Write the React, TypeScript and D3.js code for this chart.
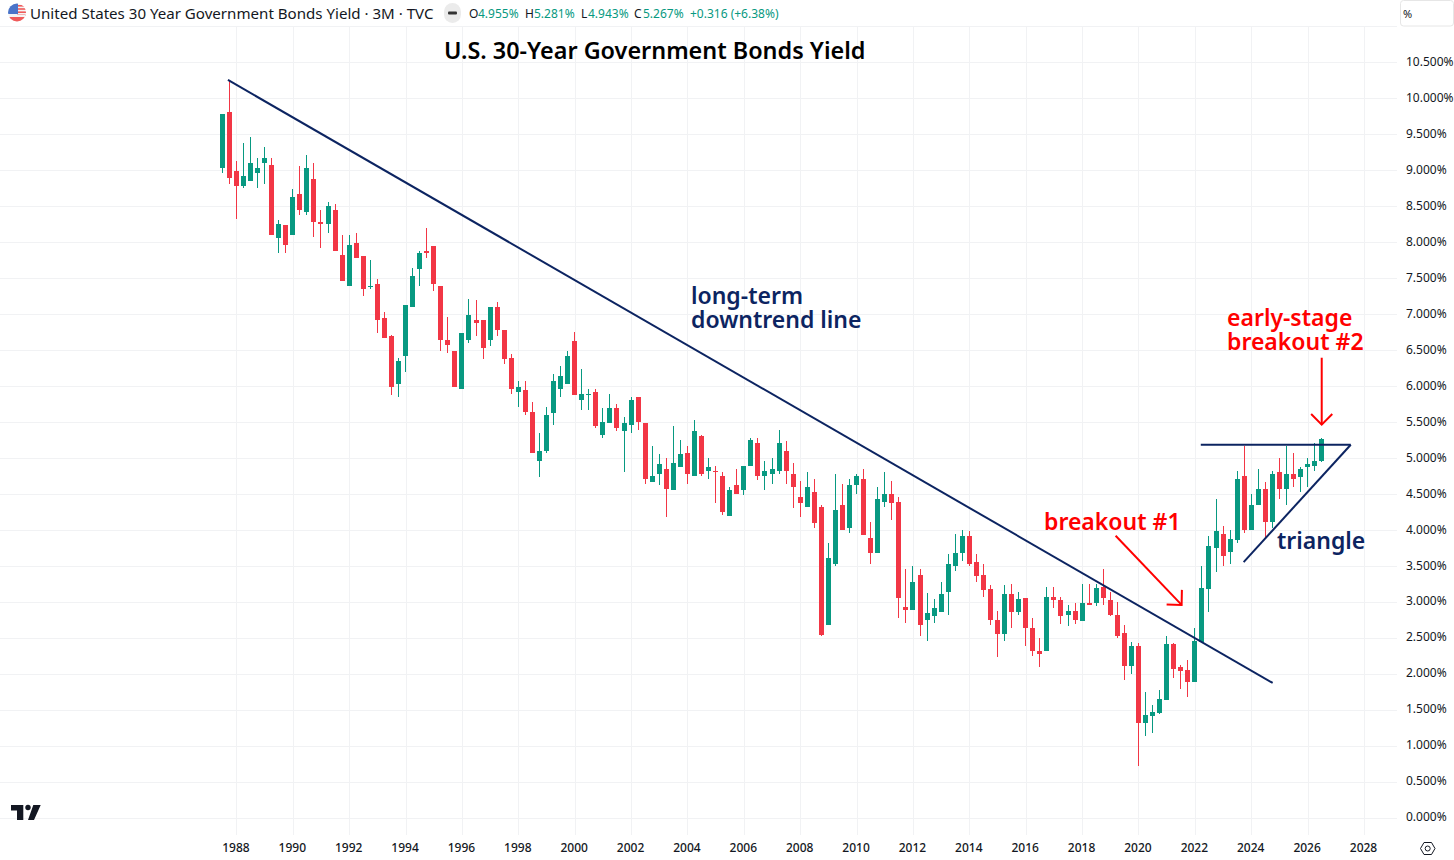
import { useEffect, useRef } from 'react'
import * as d3 from 'd3'

// quarterly candles, first one is 1987 Q3
const startYear = 1987.5
const opens = [
  9.02, 9.81, 8.98, 8.78, 8.85, 8.96, 9.09, 9.07, 8.06, 8.24, 8.09, 8.66, 8.41, 8.87, 8.27, 8.25, 8.45, 7.82, 7.39, 7.98,
  7.8, 7.38, 7.41, 6.94, 6.69, 6.02, 6.41, 7.09, 7.62, 7.87, 7.94, 7.38, 6.63, 6.48, 5.95, 6.63, 6.91, 6.92, 6.63, 7.1,
  6.78, 6.39, 5.91, 5.94, 5.63, 4.96, 5.09, 5.62, 5.95, 6.03, 6.62, 5.8, 5.87, 5.92, 5.32, 5.48, 5.69, 5.37, 5.45, 5.84,
  5.48, 4.66, 4.77, 4.84, 4.55, 4.87, 5.07, 4.75, 5.3, 4.82, 4.81, 4.75, 4.19, 4.62, 4.55, 4.88, 5.2, 4.74, 4.77, 4.82,
  5.09, 4.78, 4.46, 4.31, 4.52, 4.31, 2.67, 3.52, 4.34, 4.03, 4.62, 4.71, 3.89, 3.67, 4.39, 4.5, 4.38, 2.92, 2.88, 3.37,
  2.74, 2.8, 2.85, 3.13, 3.49, 3.67, 3.91, 3.55, 3.37, 3.17, 2.75, 2.55, 3.1, 2.85, 3.05, 2.64, 2.32, 2.31, 3.06, 3.02,
  2.82, 2.87, 2.73, 2.98, 2.98, 3.21, 3.02, 2.82, 2.56, 2.1, 2.39, 1.31, 1.41, 1.45, 1.63, 2.41, 2.09, 2.05, 1.89, 2.44,
  3.17, 3.74, 3.94, 3.69, 3.85, 4.74, 4.0, 4.34, 4.57, 4.1, 4.8, 4.57, 4.78, 4.73, 4.87, 4.88, 4.955,
]
const highs = [
  9.78, 10.25, 9.12, 9.37, 9.46, 9.17, 9.32, 9.16, 8.31, 8.24, 8.74, 9.06, 9.21, 9.1, 8.44, 8.56, 8.53, 8.1, 8.09, 8.12,
  7.8, 7.75, 7.49, 7.03, 6.7, 6.39, 7.12, 7.64, 7.87, 8.19, 7.94, 7.39, 6.95, 6.48, 6.73, 7.2, 7.19, 6.92, 7.09, 7.17,
  6.78, 6.44, 6.07, 6.07, 5.77, 5.35, 5.7, 6.16, 6.28, 6.49, 6.75, 6.24, 5.96, 5.95, 5.69, 5.89, 5.74, 5.56, 5.84, 5.84,
  5.48, 5.17, 5.05, 5.0, 5.44, 5.24, 5.16, 5.53, 5.32, 5.0, 4.89, 4.8, 4.6, 4.85, 4.89, 5.28, 5.27, 4.96, 4.99, 5.39,
  5.23, 4.92, 4.67, 4.8, 4.7, 4.35, 3.82, 4.77, 4.63, 4.7, 4.77, 4.84, 4.1, 4.6, 4.8, 4.67, 4.45, 3.46, 3.49, 3.45,
  3.12, 3.03, 3.27, 3.66, 3.94, 4.0, 3.98, 3.66, 3.52, 3.23, 2.87, 3.23, 3.25, 3.14, 3.05, 2.77, 2.5, 3.21, 3.21, 3.06,
  2.95, 2.98, 3.24, 3.25, 3.25, 3.46, 3.14, 3.0, 2.67, 2.44, 2.42, 1.75, 1.57, 1.77, 2.52, 2.42, 2.12, 2.19, 2.64, 3.49,
  3.91, 4.42, 4.05, 4.0, 4.81, 5.17, 4.5, 4.85, 4.66, 4.82, 5.0, 5.17, 5.07, 4.87, 5.0, 5.2, 5.281,
]
const lows = [
  8.96, 8.8, 8.32, 8.75, 8.85, 8.75, 8.8, 8.09, 7.84, 7.84, 8.09, 8.37, 8.37, 8.07, 7.91, 8.12, 7.88, 7.45, 7.39, 7.77,
  7.25, 7.34, 6.73, 6.67, 5.87, 5.84, 6.19, 7.09, 7.38, 7.78, 7.32, 6.48, 6.46, 5.98, 5.95, 6.6, 6.69, 6.37, 6.55, 6.69,
  6.3, 5.88, 5.7, 5.59, 5.07, 4.73, 5.06, 5.45, 5.85, 6.03, 5.87, 5.67, 5.66, 5.41, 5.27, 5.48, 5.37, 4.8, 5.34, 5.39,
  4.63, 4.66, 4.62, 4.17, 4.55, 4.87, 4.63, 4.75, 4.75, 4.7, 4.37, 4.2, 4.19, 4.5, 4.48, 4.88, 4.69, 4.55, 4.63, 4.78,
  4.64, 4.3, 4.17, 4.31, 4.02, 2.52, 2.67, 3.5, 4.0, 3.95, 4.49, 3.92, 3.52, 3.67, 4.32, 4.13, 2.77, 2.7, 2.88, 2.52,
  2.45, 2.7, 2.85, 2.81, 3.42, 3.56, 3.49, 3.27, 3.06, 2.67, 2.23, 2.45, 2.63, 2.81, 2.38, 2.25, 2.09, 2.31, 2.91, 2.69,
  2.66, 2.69, 2.73, 2.96, 2.94, 2.96, 2.8, 2.49, 1.91, 2.0, 0.71, 1.13, 1.17, 1.44, 1.63, 1.94, 1.78, 1.67, 1.89, 2.44,
  2.85, 3.41, 3.49, 3.53, 3.81, 3.95, 4.0, 4.34, 3.89, 4.03, 4.42, 4.34, 4.6, 4.52, 4.6, 4.82, 4.943,
]
const closes = [
  9.78, 8.89, 8.78, 8.92, 9.1, 9.02, 9.16, 8.09, 8.25, 7.96, 8.62, 8.44, 9.03, 8.28, 8.25, 8.5, 7.88, 7.45, 7.96, 7.77,
  7.34, 7.39, 6.91, 6.67, 5.99, 6.35, 7.12, 7.53, 7.85, 7.84, 7.41, 6.63, 6.57, 5.98, 6.73, 6.99, 6.87, 6.53, 7.09, 6.77,
  6.37, 5.96, 5.98, 5.63, 5.07, 5.09, 5.59, 6.06, 6.13, 6.42, 5.87, 5.88, 5.88, 5.44, 5.5, 5.69, 5.42, 5.48, 5.8, 5.5,
  4.71, 4.75, 4.91, 4.57, 4.92, 5.05, 4.77, 5.37, 4.77, 4.87, 4.8, 4.25, 4.55, 4.5, 4.89, 5.24, 4.74, 4.81, 4.84, 5.2,
  4.82, 4.6, 4.37, 4.6, 4.09, 2.53, 3.6, 4.28, 4.0, 4.62, 4.75, 3.92, 3.67, 4.42, 4.5, 4.37, 3.05, 2.89, 3.27, 2.67,
  2.84, 2.91, 3.1, 3.53, 3.67, 3.91, 3.53, 3.35, 3.16, 2.74, 2.55, 3.1, 2.85, 3.03, 2.64, 2.31, 2.27, 3.07, 3.02, 2.8,
  2.87, 2.74, 2.98, 2.96, 3.19, 3.05, 2.81, 2.52, 2.1, 2.39, 1.31, 1.42, 1.46, 1.64, 2.41, 2.07, 2.03, 1.89, 2.45, 3.19,
  3.78, 3.98, 3.64, 3.87, 4.7, 4.0, 4.35, 4.56, 4.1, 4.78, 4.56, 4.78, 4.71, 4.84, 4.91, 4.95, 5.267,
]

const yearTicks = d3.range(1988, 2029, 2)
const yieldTicks = d3.range(0, 10.51, 0.5)

// drawn lines on top of the chart, [year, yield]
const downtrendLine = [[1987.7, 10.25], [2024.76, 1.87]]
const triangleTop = [[2022.21, 5.18], [2027.53, 5.18]]
const triangleBottom = [[2023.73, 3.55], [2027.53, 5.18]]
const arrowOne = [[2019.19, 3.915], [2021.53, 2.955]]
const arrowTwo = [[2026.5, 6.39], [2026.5, 5.46]]

const green = '#089981'
const red = '#f23645'
const navy = '#0c2461'
const fontFamily = '"Noto Sans", sans-serif'

export default function App() {
  const svgRef = useRef<SVGSVGElement>(null)

  useEffect(() => {
    if (!svgRef.current) return
    const svg = d3.select(svgRef.current)
    svg.selectAll('*').remove()

    const x = d3.scaleLinear().domain([1988, 2028]).range([236.4, 1364])
    const y = d3.scaleLinear().domain([0, 10.5]).range([817.5, 62])

    svg.append('rect').attr('width', 1454).attr('height', 860).attr('fill', '#fff')

    // grid
    const grid = svg.append('g').attr('stroke', '#f1f2f4').attr('stroke-width', 1).attr('shape-rendering', 'crispEdges')
    grid.selectAll('.gx').data(yearTicks).join('line')
      .attr('x1', (d) => Math.round(x(d)) + 0.5).attr('x2', (d) => Math.round(x(d)) + 0.5)
      .attr('y1', 27).attr('y2', 835)
    grid.selectAll('.gy').data(yieldTicks).join('line')
      .attr('x1', 0).attr('x2', 1397)
      .attr('y1', (d) => Math.round(y(d)) + 0.5).attr('y2', (d) => Math.round(y(d)) + 0.5)
    grid.append('line').attr('x1', 0).attr('x2', 1397).attr('y1', 26.5).attr('y2', 26.5)

    // axes
    const yAxis = d3.axisRight(y).tickValues(yieldTicks).tickSize(0).tickPadding(0)
      .tickFormat((d) => `${(d as number).toFixed(3)}%`)
    const yG = svg.append('g').attr('transform', 'translate(1406,-0.5)').call(yAxis)
    yG.select('.domain').remove()
    yG.selectAll('text').attr('font-family', fontFamily).attr('font-size', 12).attr('fill', '#131722')

    const xAxis = d3.axisBottom(x).tickValues(yearTicks).tickSize(0).tickPadding(0).tickFormat((d) => String(d))
    const xG = svg.append('g').attr('transform', 'translate(-1,843)').call(xAxis)
    xG.select('.domain').remove()
    xG.selectAll('text').attr('font-family', fontFamily).attr('font-size', 12).attr('font-weight', 500).attr('fill', '#131722')

    // candles
    const candles = d3.range(opens.length).map((i) => ({
      t: startYear + i * 0.25, o: opens[i], h: highs[i], l: lows[i], c: closes[i],
    }))
    const cg = svg.append('g').attr('shape-rendering', 'crispEdges')
    const color = (d: any) => (d.c >= d.o ? green : red)
    const left = (d: any) => Math.round(x(d.t) - 2.5)
    cg.selectAll('.wick').data(candles).join('rect')
      .attr('x', (d) => left(d) + 2).attr('width', 1)
      .attr('y', (d) => y(d.h)).attr('height', (d) => y(d.l) - y(d.h))
      .attr('fill', color)
    cg.selectAll('.body').data(candles).join('rect')
      .attr('x', left).attr('width', 5)
      .attr('y', (d) => y(Math.max(d.o, d.c)))
      .attr('height', (d) => Math.max(1, Math.abs(y(d.o) - y(d.c))))
      .attr('fill', color)

    // drawings
    const line = d3.line<number[]>().x((d) => x(d[0])).y((d) => y(d[1]))
    for (const pts of [downtrendLine, triangleTop, triangleBottom]) {
      svg.append('path').attr('d', line(pts)).attr('fill', 'none').attr('stroke', navy).attr('stroke-width', 2)
    }
    for (const pts of [arrowOne, arrowTwo]) {
      const [x0, y0] = [x(pts[0][0]), y(pts[0][1])]
      const [x1, y1] = [x(pts[1][0]), y(pts[1][1])]
      const a = Math.atan2(y1 - y0, x1 - x0)
      const len = 15
      const head = [
        [x1 + len * Math.cos(a + 2.36), y1 + len * Math.sin(a + 2.36)],
        [x1, y1],
        [x1 + len * Math.cos(a - 2.36), y1 + len * Math.sin(a - 2.36)],
      ]
      svg.append('line').attr('x1', x0).attr('y1', y0).attr('x2', x1).attr('y2', y1).attr('stroke', '#ff0000').attr('stroke-width', 2)
      svg.append('path').attr('d', d3.line()(head as [number, number][])).attr('fill', 'none').attr('stroke', '#ff0000').attr('stroke-width', 2)
    }

    // labels
    const label = (t: string, px: number, py: number, fill: string, size = 23, weight = 600) =>
      svg.append('text').attr('x', px).attr('y', py).attr('fill', fill).attr('font-family', fontFamily)
        .attr('font-size', size).attr('font-weight', weight).text(t)
    label('U.S. 30-Year Government Bonds Yield', 444, 59, '#000', 23.4)
    label('long-term', 691, 304, navy)
    label('downtrend line', 691, 328, navy)
    label('early-stage', 1227, 326, '#ff0000')
    label('breakout #2', 1227, 350, '#ff0000')
    label('breakout #1', 1044, 530, '#ff0000')
    label('triangle', 1277, 549, navy)

    // header
    label('United States 30 Year Government Bonds Yield · 3M · TVC', 30, 19, '#131722', 15.1, 400)
    const legend: [string, number, string][] = [
      ['O', 469, '#131722'], ['4.955%', 478, green],
      ['H', 525, '#131722'], ['5.281%', 534, green],
      ['L', 581, '#131722'], ['4.943%', 588, green],
      ['C', 634, '#131722'], ['5.267%', 643, green],
      ['+0.316 (+6.38%)', 690, green],
    ]
    legend.forEach(([t, px, fill]) => label(t, px, 18, fill, 12, 400))

    // flag
    const defs = svg.append('defs')
    defs.append('clipPath').attr('id', 'flagClip').append('circle').attr('cx', 17).attr('cy', 12.5).attr('r', 9)
    const flag = svg.append('g').attr('clip-path', 'url(#flagClip)')
    flag.append('rect').attr('x', 8).attr('y', 3).attr('width', 18).attr('height', 19).attr('fill', '#f4f4f4')
    d3.range(4).forEach((i) => {
      flag.append('rect').attr('x', 17).attr('y', 5 + i * 3.2).attr('width', 9).attr('height', 1.6).attr('fill', '#f05a5a')
    })
    flag.append('rect').attr('x', 8).attr('y', 15).attr('width', 18).attr('height', 2).attr('fill', '#f4f4f4')
    flag.append('rect').attr('x', 8).attr('y', 17).attr('width', 18).attr('height', 5).attr('fill', '#f05a5a')
    flag.append('rect').attr('x', 8).attr('y', 3).attr('width', 10).attr('height', 11).attr('fill', '#4a74c9')

    // collapse pill
    svg.append('rect').attr('x', 444).attr('y', 3).attr('width', 17).attr('height', 20).attr('rx', 8.5).attr('fill', '#ebebeb')
    svg.append('rect').attr('x', 448).attr('y', 11.5).attr('width', 9).attr('height', 3).attr('rx', 1).attr('fill', '#333')

    // % box
    svg.append('rect').attr('x', 1400.5).attr('y', 0.5).attr('width', 53).attr('height', 25.5).attr('rx', 3)
      .attr('fill', '#fff').attr('stroke', '#e6e6e6')
    label('%', 1403, 18, '#131722', 11, 400)

    // logo
    svg.append('path').attr('d', 'M11 805H23.3V820H17V810.5H11Z M33.3 805H40.7L34 820H28Z').attr('fill', '#131722')
    svg.append('circle').attr('cx', 28).attr('cy', 807.5).attr('r', 2.7).attr('fill', '#131722')

    // settings hexagon
    svg.append('path').attr('d', 'M1420.5 848.5L1424 842.5H1431.5L1435 848.5L1431.5 854.5H1424Z')
      .attr('fill', 'none').attr('stroke', '#131722').attr('stroke-width', 1).attr('stroke-linejoin', 'round')
    svg.append('circle').attr('cx', 1427.7).attr('cy', 848.5).attr('r', 2.5).attr('fill', 'none').attr('stroke', '#131722')
  }, [])

  return <svg ref={svgRef} width={1454} height={860} style={{ position: 'fixed', left: 0, top: 0 }} />
}
